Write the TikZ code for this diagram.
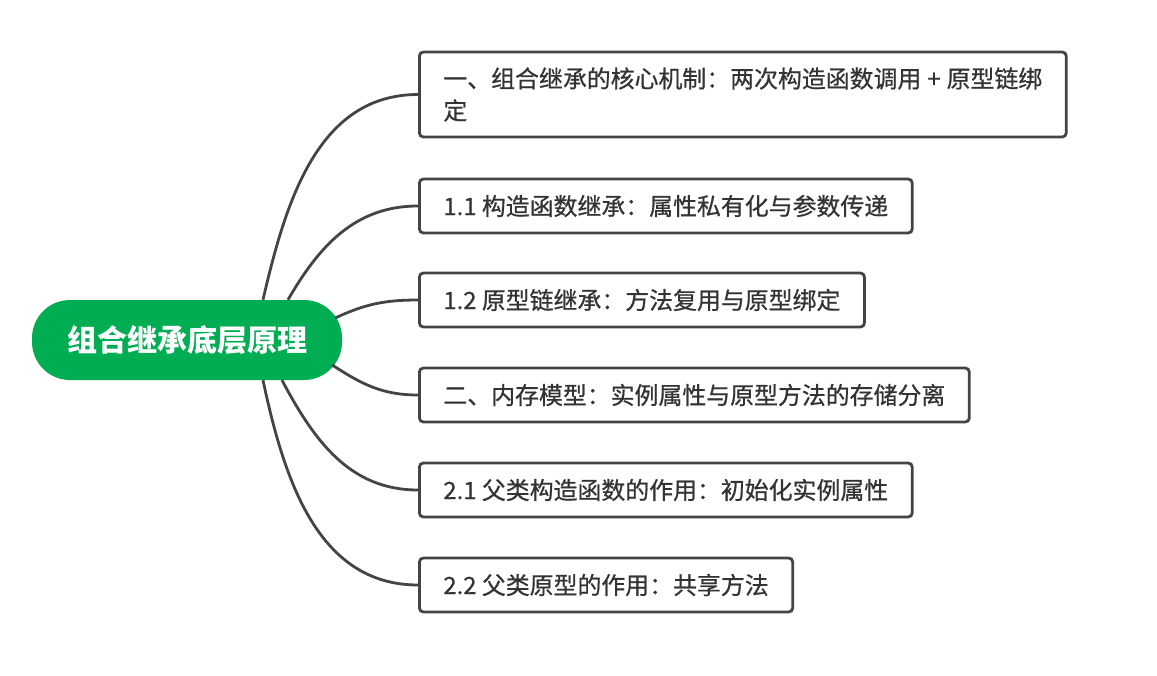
\documentclass[tikz,border=0pt]{standalone}
\usepackage{fontspec}
\setmainfont{Noto Sans CJK SC}
\newfontfamily\boxfont{Noto Sans CJK SC}[BoldFont=Noto Sans CJK SC,BoldFeatures={FakeBold=0.7}]
\usepackage{xcolor}
\definecolor{rootgreen}{RGB}{0,173,82}
\definecolor{linegray}{RGB}{68,68,68}
\definecolor{textgray}{RGB}{51,51,51}

\begin{document}
\begin{tikzpicture}[x=1pt,y=1pt,
		root/.style={fill=rootgreen,text=white,rounded corners=38pt,minimum width=310pt,minimum height=80pt,inner sep=0pt,font=\fontsize{30}{36}\selectfont\bfseries},
		box/.style={draw=linegray,line width=2.8pt,rounded corners=4pt,anchor=west,align=left,text=textgray,inner xsep=24pt,inner ysep=0pt,minimum height=54pt,font=\boxfont\bfseries\fontsize{23.9}{32}\selectfont},
		branch/.style={draw=linegray,line width=2.8pt}]
		\useasboundingbox (0,0) rectangle (1157,-675);
		
		\node[root] (root) at (187,-340) {组合继承底层原理};
		
		\node[box,minimum height=85pt] (core) at (418,-94.5) {一、组合继承的核心机制：两次构造函数调用\hspace{6pt}+\hspace{6pt}原型链绑\\定};
		\node[box] (ctor) at (418,-206) {1.1 构造函数继承：属性私有化与参数传递};
		\node[box] (proto) at (418,-300) {1.2 原型链继承：方法复用与原型绑定};
		\node[box] (mem) at (418,-395) {二、内存模型：实例属性与原型方法的存储分离};
		\node[box] (pctor) at (418,-490) {2.1 父类构造函数的作用：初始化实例属性};
		\node[box] (pproto) at (418,-585) {2.2 父类原型的作用：共享方法};
		
		\draw[branch]
			([xshift=76pt]root.north) to[out=77,in=180] (core.west)
			([xshift=101pt]root.north) to[out=60,in=180] (ctor.west)
			([shift={(-7pt,22pt)}]root.east) to[out=25,in=180] (proto.west)
			([shift={(-10pt,-25pt)}]root.east) to[out=-33,in=180] (mem.west)
			([xshift=95pt]root.south) to[out=-62,in=180] (pctor.west)
			([xshift=76pt]root.south) to[out=-78,in=180] (pproto.west);
	\end{tikzpicture}
\end{document}
